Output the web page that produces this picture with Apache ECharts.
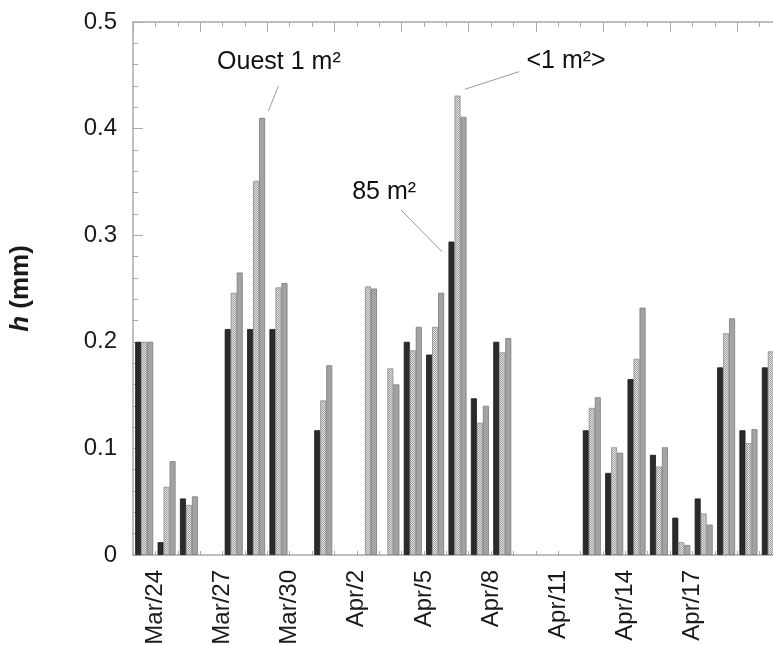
<!DOCTYPE html>
<html>
<head>
<meta charset="utf-8">
<script src="https://cdn.jsdelivr.net/npm/echarts@6/dist/echarts.min.js"></script>
<style>html,body{margin:0;padding:0;background:#fff;}#c{width:773px;height:645px;}</style>
</head>
<body>
<div id="c"></div>
<script>
// Day slots (each slot = one day, bars drawn inside the slot)
const categories = ['Mar/23','Mar/24','Mar/25','Mar/26','Mar/27','Mar/28','Mar/29','Mar/30','Mar/31',
  'Apr/1','Apr/2','Apr/3','Apr/4','Apr/5','Apr/6','Apr/7','Apr/8','Apr/9','Apr/10','Apr/11',
  'Apr/12','Apr/13','Apr/14','Apr/15','Apr/16','Apr/17','Apr/18','Apr/19','Apr/20','Apr/21'];
// Tick labels placed on day boundaries 1, 4, 7, ...
const tickLabels = ['Mar/24','Mar/27','Mar/30','Apr/2','Apr/5','Apr/8','Apr/11','Apr/14','Apr/17'];
const yTicks = [0, 0.1, 0.2, 0.3, 0.4, 0.5];

const s85 = [0.200,0.012,0.053,null,0.212,0.212,0.212,null,0.117,null,null,null,0.200,0.188,0.294,0.147,0.200,null,null,null,0.117,0.077,0.165,0.094,0.035,0.053,0.176,0.117,0.176,null];
const sMean1 = [0.200,0.064,0.047,null,0.246,0.351,0.251,null,0.145,null,0.252,0.175,0.192,0.214,0.431,0.124,0.190,null,null,null,0.138,0.101,0.184,0.083,0.012,0.039,0.208,0.105,0.191,null];
const sOuest1 = [0.200,0.088,0.055,null,0.265,0.410,0.255,null,0.178,null,0.250,0.160,0.214,0.246,0.411,0.140,0.2035,null,null,null,0.148,0.096,0.232,0.101,0.0094,0.0285,0.222,0.118,0.231,null];

// Annotations: text centre and leader line ends, in slot units / mm
const annText = ['Ouest 1 m\u00B2', '<1 m\u00B2>', '85 m\u00B2'];
const annTextPos = [[6.52, 0.4625], [19.35, 0.4634], [11.22, 0.3405]];
const annLineFrom = [[6.50, 0.440], [17.25, 0.4534], [11.98, 0.3236]];
const annLineTo = [[6.05, 0.4165], [14.83, 0.4369], [13.81, 0.2845]];

const FONT = 'Liberation Sans, Arial, Helvetica, sans-serif';
const AXC = '#a9a9a9';

// dotted pattern
const pc = document.createElement('canvas');
pc.width = 2; pc.height = 2;
const pctx = pc.getContext('2d');
pctx.fillStyle = '#e2e2e2'; pctx.fillRect(0,0,2,2);
pctx.fillStyle = '#a0a0a0'; pctx.fillRect(0,0,1,1); pctx.fillRect(1,1,1,1);

const chart = echarts.init(document.getElementById('c'), null, {renderer: 'canvas'});
const nSlots = categories.length;
chart.setOption({
  animation: false,
  backgroundColor: '#fff',
  grid: {left: 133, top: 22, width: nSlots * 22.38, height: 533, containLabel: false, outerBoundsMode: 'none'},
  xAxis: [
    {type: 'category', data: categories, position: 'bottom', show: false, boundaryGap: true},
    {type: 'value', position: 'bottom', min: 0, max: nSlots, interval: 1,
      axisLine: {show: true, onZero: false, lineStyle: {color: AXC, width: 1.5}},
      axisTick: {show: true, inside: true, length: 4, lineStyle: {color: AXC, width: 1}},
      splitLine: {show: false},
      axisLabel: {rotate: 90, margin: 15, fontSize: 24, fontFamily: FONT, color: '#1a1a1a', hideOverlap: false,
        formatter: function (v) {
          if ((v - 1) % 3 === 0) { const i = (v - 1) / 3; return i < tickLabels.length ? tickLabels[i] : ''; }
          return '';
        }}
    },
    {type: 'value', position: 'top', min: 0, max: nSlots, interval: 3,
      axisLine: {show: true, onZero: false, lineStyle: {color: AXC, width: 1.5}},
      axisTick: {show: true, inside: true, length: 10, lineStyle: {color: AXC, width: 1}},
      minorTick: {show: true, splitNumber: 3, length: 5, lineStyle: {color: AXC, width: 1}},
      splitLine: {show: false}, minorSplitLine: {show: false},
      axisLabel: {show: false}
    }
  ],
  yAxis: [{
    type: 'value', min: yTicks[0], max: yTicks[yTicks.length - 1], interval: 0.1, position: 'left',
    axisLine: {show: true, lineStyle: {color: AXC, width: 1.5}},
    axisTick: {show: true, inside: true, length: 10, lineStyle: {color: AXC, width: 1}},
    minorTick: {show: true, splitNumber: 5, length: 5, lineStyle: {color: AXC, width: 1}},
    splitLine: {show: false}, minorSplitLine: {show: false},
    axisLabel: {margin: 16, fontSize: 24, fontFamily: FONT, color: '#1a1a1a'},
    name: '{i|h} {b|(mm)}', nameLocation: 'middle', nameGap: 99, nameRotate: 90,
    nameTextStyle: {
      fontSize: 26, fontFamily: FONT, color: '#1a1a1a',
      rich: {
        i: {fontSize: 26, fontFamily: FONT, fontWeight: 'bold', fontStyle: 'italic', color: '#1a1a1a'},
        b: {fontSize: 26, fontFamily: FONT, fontWeight: 'bold', color: '#1a1a1a'}
      }
    }
  }],
  series: [
    {name: '85 m\u00B2', type: 'bar', xAxisIndex: 0, yAxisIndex: 0, data: s85, barWidth: 6, barGap: '0%',
      itemStyle: {color: '#2b2b2b', borderColor: '#1a1a1a', borderWidth: 0.8}},
    {name: '<1 m\u00B2>', type: 'bar', xAxisIndex: 0, yAxisIndex: 0, data: sMean1, barWidth: 6, barGap: '0%',
      itemStyle: {color: {image: pc, repeat: 'repeat'}, borderColor: '#8c8c8c', borderWidth: 0.8}},
    {name: 'Ouest 1 m\u00B2', type: 'bar', xAxisIndex: 0, yAxisIndex: 0, data: sOuest1, barWidth: 6, barGap: '0%',
      itemStyle: {color: '#a3a3a3', borderColor: '#7a7a7a', borderWidth: 0.8}}
  ]
});

const finder = {xAxisIndex: 1, yAxisIndex: 0};
const graphics = [];
for (let i = 0; i < annText.length; i++) {
  const t = chart.convertToPixel(finder, annTextPos[i]);
  const a = chart.convertToPixel(finder, annLineFrom[i]);
  const b = chart.convertToPixel(finder, annLineTo[i]);
  graphics.push({type: 'line', z: 100, shape: {x1: a[0], y1: a[1], x2: b[0], y2: b[1]},
    style: {stroke: '#9a9a9a', lineWidth: 1}});
  graphics.push({type: 'text', z: 100, x: t[0], y: t[1],
    style: {text: annText[i], fontSize: 25, fontFamily: FONT, fill: '#111', align: 'center', verticalAlign: 'middle'}});
}
chart.setOption({graphic: graphics});
</script>
</body>
</html>
